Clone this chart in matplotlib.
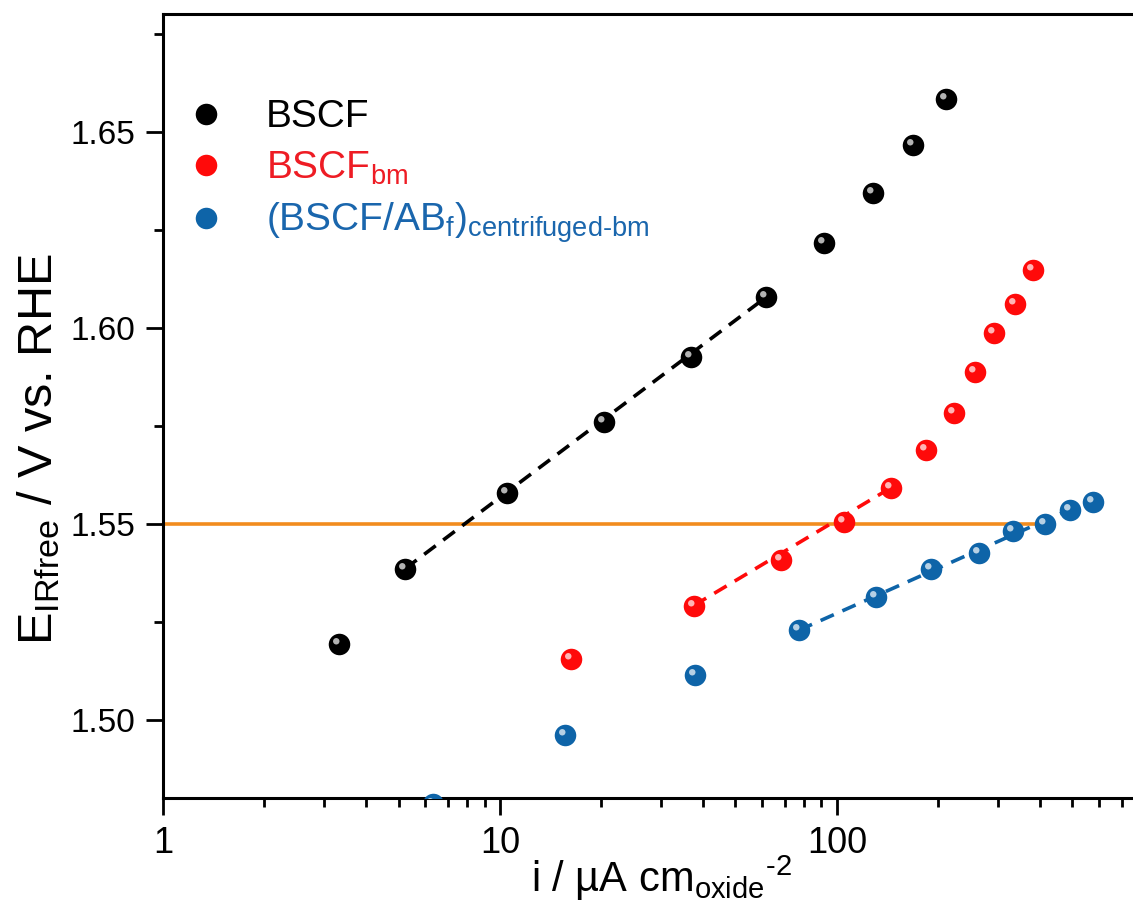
"""Tafel-style plot: iR-free potential vs. oxide-normalised current density."""

import matplotlib
matplotlib.use("Agg")
import matplotlib.pyplot as plt
from matplotlib.path import Path
from matplotlib.legend_handler import HandlerTuple
from matplotlib.ticker import LogLocator, FixedLocator, MultipleLocator, NullFormatter

plt.rcParams["font.family"] = ["Liberation Sans", "DejaVu Sans"]
plt.rcParams["mathtext.fontset"] = "custom"
plt.rcParams["mathtext.rm"] = "Liberation Sans"
plt.rcParams["mathtext.it"] = "Liberation Sans:italic"
plt.rcParams["mathtext.default"] = "regular"

# --- data (i in uA cm^-2 oxide, E in V vs. RHE) ---
bscf_i = [3.33, 5.23, 10.5, 20.3, 36.9, 61.5, 91.5, 128, 168, 211]
bscf_e = [1.5193, 1.5385, 1.5577, 1.5758, 1.5924, 1.6077, 1.6217, 1.6344, 1.6467, 1.6584]
bscf_fit_i = [5.23, 61.5]
bscf_fit_e = [1.5385, 1.6077]

bm_i = [16.2, 37.6, 68.2, 105, 145, 184, 222, 257, 292, 337, 382]
bm_e = [1.5154, 1.5291, 1.5406, 1.5505, 1.5592, 1.5689, 1.5783, 1.5888, 1.5987, 1.6061, 1.6146]
bm_fit_i = [37.6, 145]
bm_fit_e = [1.5291, 1.5592]

cbm_i = [6.33, 15.6, 37.9, 77.1, 131, 190, 264, 333, 414, 491, 575]
cbm_e = [1.4786, 1.4962, 1.5113, 1.5228, 1.5312, 1.5383, 1.5426, 1.5480, 1.5498, 1.5536, 1.5554]
cbm_fit_i = [77.1, 491]
cbm_fit_e = [1.5228, 1.5536]

ref_i = [1, 430]
ref_e = [1.55, 1.55]

labels = ["BSCF", "BSCF$_{bm}$", "(BSCF/AB$_{f}$)$_{centrifuged\u2010bm}$"]
colors = ["black", "#ff0a0a", "#0e64a8"]
text_colors = ["black", "#ee1c24", "#1a66ad"]

# small off-centre glint so the markers look like the shaded spheres
glint = Path.make_compound_path(
    Path.circle((-0.15, 0.15), 0.15),
    Path([(-0.5, -0.5), (0.5, 0.5)], [Path.MOVETO, Path.MOVETO]),
)

fig = plt.figure(figsize=(11.33, 9.05), dpi=100)
ax = fig.add_axes([0.1439, 0.1182, 0.8541, 0.8663])

ax.plot(ref_i, ref_e, color="#f28c1e", lw=2.6, zorder=2)

handles = []
series = [(bscf_i, bscf_e, bscf_fit_i, bscf_fit_e),
          (bm_i, bm_e, bm_fit_i, bm_fit_e),
          (cbm_i, cbm_e, cbm_fit_i, cbm_fit_e)]
for (xs, ys, fx, fy), c in zip(series, colors):
    ax.plot(fx, fy, color=c, lw=2.6, dashes=(4, 2.6), zorder=3)
    main, = ax.plot(xs, ys, "o", color=c, ms=15.5, mew=0, zorder=4)
    hi, = ax.plot(xs, ys, ls="none", marker=glint, color="white", alpha=0.7,
                  ms=15.5, mew=0, zorder=5)
    handles.append((main, hi))

ax.set_xscale("log")
ax.set_xlim(1, 745)
ax.set_ylim(1.48, 1.68)

ax.xaxis.set_major_locator(FixedLocator([1, 10, 100]))
ax.set_xticklabels(["1", "10", "100"])
ax.xaxis.set_minor_locator(LogLocator(base=10, subs=range(2, 10)))
ax.xaxis.set_minor_formatter(NullFormatter())
ax.yaxis.set_major_locator(FixedLocator([1.50, 1.55, 1.60, 1.65]))
ax.set_yticklabels(["1.50", "1.55", "1.60", "1.65"])
ax.yaxis.set_minor_locator(MultipleLocator(0.025))

ax.spines["right"].set_visible(False)
for s in ("left", "bottom", "top"):
    ax.spines[s].set_linewidth(2.2)
ax.tick_params(which="both", direction="out", width=2, top=False, right=False)
ax.tick_params(which="major", length=12)
ax.tick_params(axis="x", which="major", pad=8, labelsize=26)
ax.tick_params(axis="y", which="major", pad=8, labelsize=24)
ax.tick_params(which="minor", length=6.5)

ax.set_ylabel("E$_{IRfree}$ / V vs. RHE", fontsize=35)
ax.yaxis.set_label_coords(-0.104, 0.445)
ax.set_xlabel("i / \u00b5A cm$_{oxide}$$^{\u2010 2}$", fontsize=30)
ax.xaxis.set_label_coords(0.515, -0.071)

leg = ax.legend(handles, labels, handler_map={tuple: HandlerTuple(ndivide=None)},
                loc="upper left", bbox_to_anchor=(0.034, 0.891), frameon=False,
                fontsize=28, handlelength=1.0, handletextpad=0.8,
                borderpad=0, borderaxespad=0, labelspacing=0.36, numpoints=1)
for t, c in zip(leg.get_texts(), text_colors):
    t.set_color(c)

fig.savefig("out.png", dpi=100)
